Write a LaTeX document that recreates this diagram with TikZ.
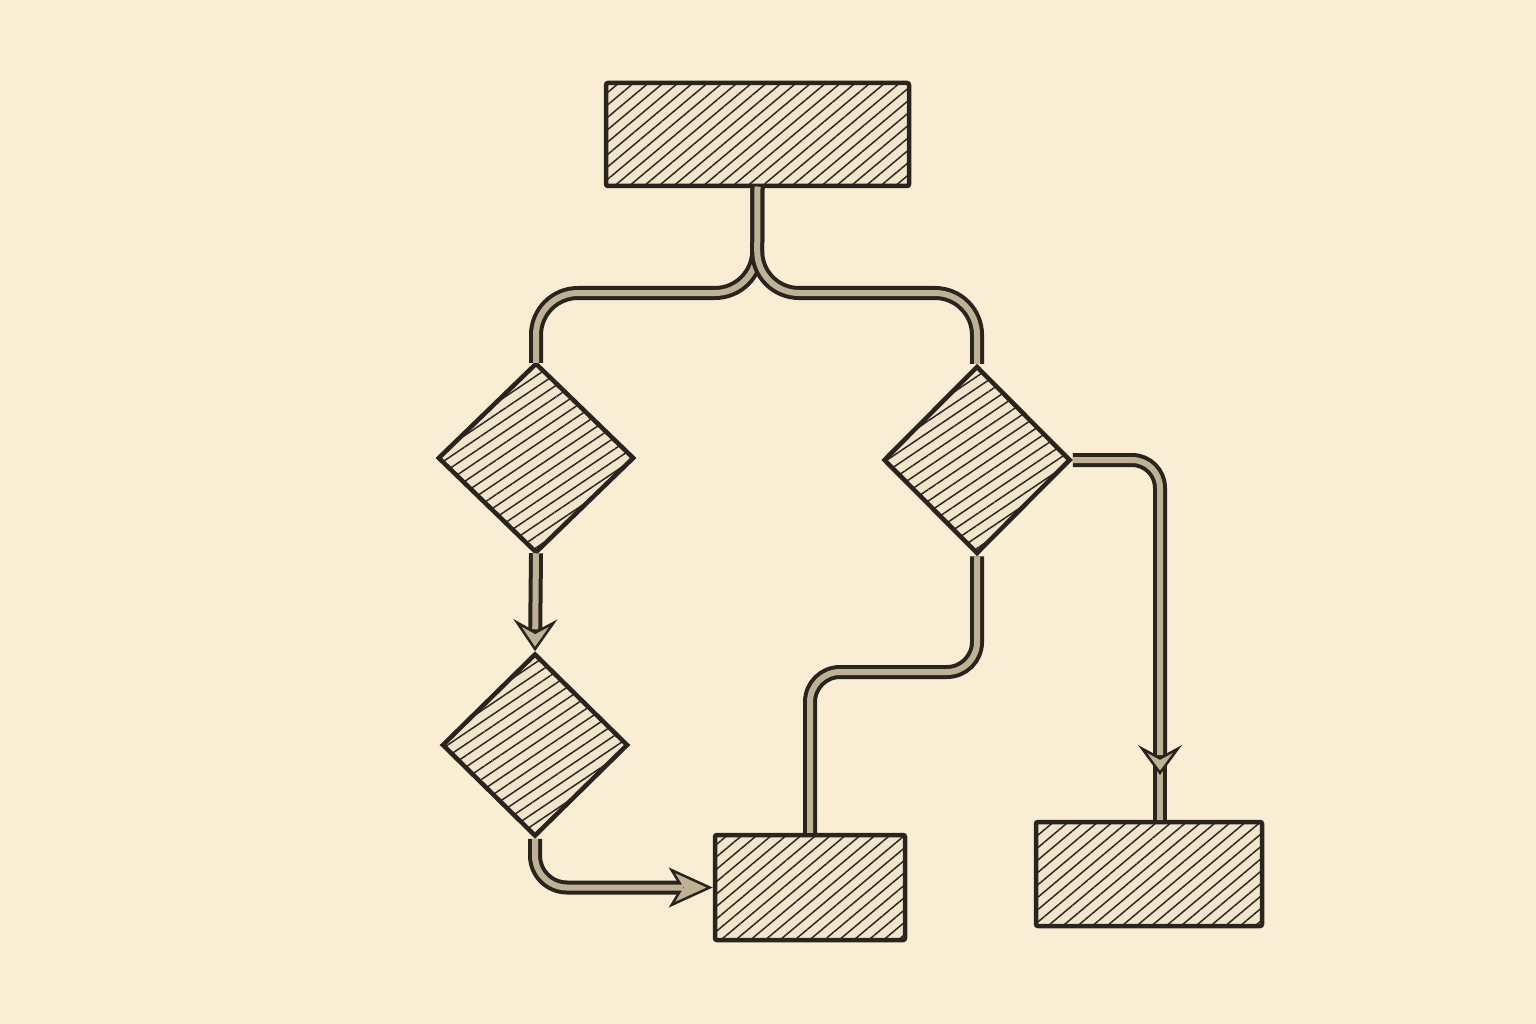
\documentclass[tikz,border=0pt]{standalone}
\usetikzlibrary{shapes.geometric,patterns.meta,arrows.meta}
\definecolor{bg}{HTML}{F9EDD3}
\definecolor{ink}{HTML}{2A241E}
\definecolor{boxfill}{HTML}{F1E6CB}
\definecolor{hatch}{HTML}{2F2822}
\definecolor{tubein}{HTML}{BFB294}
\tikzset{
  boxnode/.style={rectangle, draw=ink, line width=4.5pt, rounded corners=2pt, inner sep=0pt,
    preaction={fill=boxfill}, pattern={Lines[angle=40,distance=9.5pt,line width=1.5pt]}, pattern color=hatch},
  decnode/.style={diamond, aspect=1, draw=ink, line width=4.5pt, inner sep=0pt,
    preaction={fill=boxfill}, pattern={Lines[angle=34,distance=9.5pt,line width=1.5pt]}, pattern color=hatch},
  tube/.style={draw=ink, line width=14pt, line cap=butt, line join=round,
    postaction={draw=tubein, line width=6pt, arrows=-}},
  tubearr/.style={draw=ink, line width=14pt, line cap=butt, line join=round,
    postaction={draw=tubein, line width=6pt, arrows=-, shorten >=#1}},
  tip/.style 2 args={-{Stealth[length=#1, width=#2, inset=12pt, line width=2.5pt, fill=tubein]}}
}
\begin{document}
\begin{tikzpicture}[x=1pt,y=-1pt]
\fill[bg] (0,0) rectangle (1536,1024);
\useasboundingbox (0,0) rectangle (1536,1024);

\node[boxnode, minimum width=303pt, minimum height=103pt] (top) at (757.5,134.5) {};
\node[decnode, minimum width=195pt, minimum height=189pt] (dL1) at (536,458) {};
\node[decnode, minimum width=186pt, minimum height=183pt] (dL2) at (535,745) {};
\node[decnode, minimum width=187pt, minimum height=188pt] (dR) at (977,460) {};
\node[boxnode, minimum width=190pt, minimum height=105pt] (bM) at (810,887.5) {};
\node[boxnode, minimum width=226pt, minimum height=104pt] (bR) at (1149,874) {};

\coordinate (split) at (757,293);
\coordinate (rarr) at (1160,775);
\coordinate (rarrb) at (1160,755);

% top split
\draw[tube, rounded corners=42pt] (top.south) -- (split) -| (dL1.north);
\draw[tube, rounded corners=42pt] (top.south) -- (split) -| (dR.north);

% left chain
\draw[tubearr=22pt, tip={32pt}{44pt}] (dL1.south) -- (dL2.north);
\draw[tubearr=30pt, tip={44pt}{40pt}, rounded corners=32pt] (dL2.south) |- (bM.west);

% right diamond to middle box
\draw[tube, rounded corners=30pt] (dR.south) -- (dR.south |- 0,672) -| (bM.north);

% right diamond to right box
\draw[tube] (rarrb) -- (rarrb |- bR.north);
\draw[tubearr=20pt, tip={30pt}{44pt}, rounded corners=28pt] (dR.east) -| (rarr);
\end{tikzpicture}
\end{document}
